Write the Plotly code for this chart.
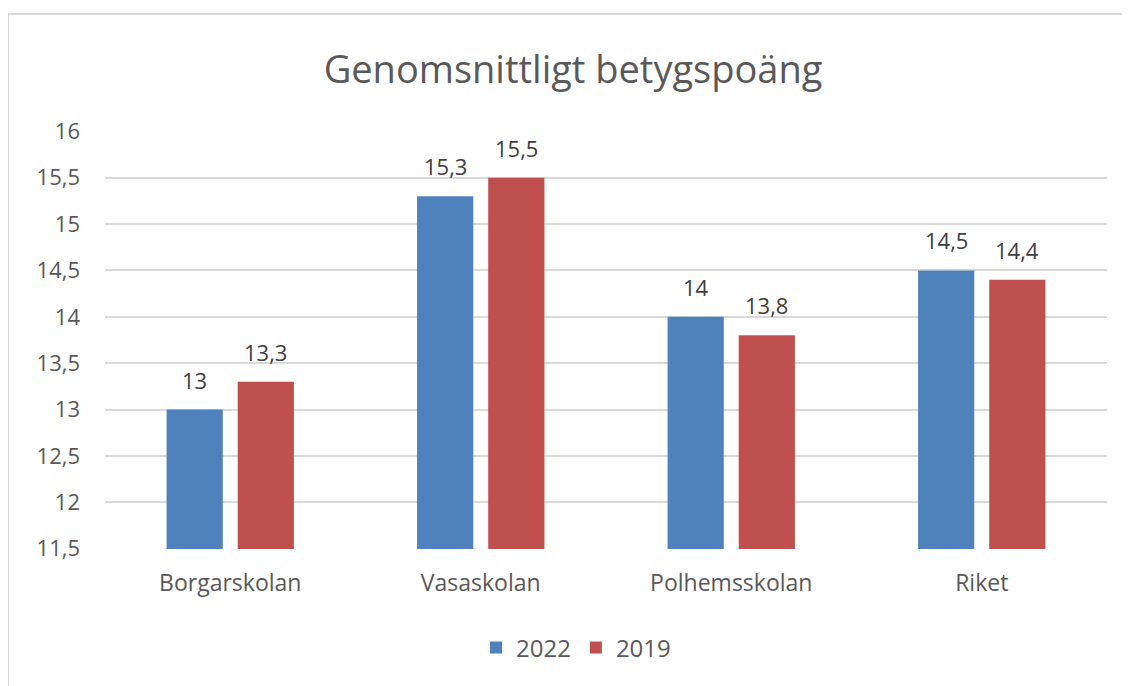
import plotly.graph_objects as go

# chart data
skolor = ["Borgarskolan", "Vasaskolan", "Polhemsskolan", "Riket"]
poang_2022 = [13, 15.3, 14, 14.5]
poang_2019 = [13.3, 15.5, 13.8, 14.4]
y_ticks = [11.5, 12, 12.5, 13, 13.5, 14, 14.5, 15, 15.5, 16]

W, H = 1130, 686
OFF = 8  # browser body margin shifts the figure by 8px
ML, MR, MT, MB = 105 - OFF, 23 + OFF, 131 - OFF, 137 + OFF
BARGAP = 0.432

GREY = "#595959"


def sv(v):
    # swedish decimal comma
    return f"{v:g}".replace(".", ",")


fig = go.Figure()
fig.add_trace(go.Bar(x=skolor, y=poang_2022, name="2022", marker_color="#4F81BD"))
fig.add_trace(go.Bar(x=skolor, y=poang_2019, name="2019", marker_color="#C0504D"))
fig.update_traces(marker_line_width=0)

pw, ph = W - ML - MR, H - MT - MB

# value labels above bars (Excel puts a bigger gap than plotly's outside text)
slot = pw / len(skolor) * (1 - BARGAP) / 2
for vals, sign in ((poang_2022, -1), (poang_2019, 1)):
    for cat, v in zip(skolor, vals):
        fig.add_annotation(x=cat, y=v, text=sv(v), showarrow=False,
                           xshift=sign * slot / 2, yshift=13, yanchor="bottom",
                           font=dict(size=22, color="#404040"))

# outer chart frame (cropped at right and bottom like the source)
fig.add_shape(type="rect", xref="paper", yref="paper", layer="below",
              x0=(8 - OFF - ML) / pw, x1=(1150 - ML) / pw,
              y0=(H - MB - 720) / ph, y1=(H - MB - 14 + OFF) / ph,
              line=dict(color="#D9D9D9", width=2))

fig.update_layout(
    width=W, height=H,
    margin=dict(l=ML, r=MR, t=MT, b=MB),
    paper_bgcolor="white", plot_bgcolor="white",
    font=dict(family="Open Sans", color=GREY),
    title=dict(text="Genomsnittligt betygspoäng", x=0.5, xanchor="center",
               y=1 - (70 - OFF) / H, yanchor="middle", font=dict(size=38, color=GREY)),
    barmode="group", bargap=BARGAP, bargroupgap=0.21,
    showlegend=True,
    legend=dict(orientation="h", x=0.5 - 30 / pw, xanchor="center",
                y=-(648 - OFF - (H - MB)) / ph, yanchor="middle",
                font=dict(size=24, color=GREY)),
    xaxis=dict(showline=False, ticks="", ticklabelstandoff=18,
               tickfont=dict(size=23, color=GREY)),
    yaxis=dict(range=[11.497, 16.003], tickvals=y_ticks,
               ticktext=[sv(v) for v in y_ticks],
               showgrid=True, gridcolor="#D9D9D9", gridwidth=2, zeroline=False,
               tickfont=dict(size=22, color=GREY), ticks="", ticklabelstandoff=24),
)

fig.write_html("out.html")
